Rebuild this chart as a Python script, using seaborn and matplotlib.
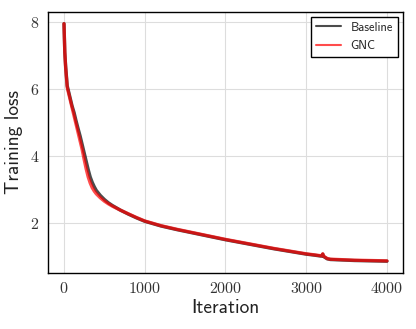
import numpy as np
import pandas as pd
import matplotlib
matplotlib.use("Agg")
import matplotlib.pyplot as plt
import seaborn as sns

# -----------------------------
# DATA
# -----------------------------
iteration = [0, 10, 20, 40, 60, 80, 100, 125, 150, 175, 200, 225, 250, 275,
             300, 325, 350, 375, 400, 450, 500, 550, 600, 700, 800, 900,
             1000, 1100, 1200, 1400, 1600, 1800, 2000, 2200, 2400, 2600, 2800,
             3000, 3100, 3190, 3205, 3215, 3260, 3300, 3400, 3600, 3800, 4000]

baseline_loss = [7.95, 7.10, 6.70, 6.10, 5.90, 5.70, 5.50, 5.30, 5.05, 4.82,
                 4.60, 4.35, 4.10, 3.85, 3.60, 3.38, 3.22, 3.09, 2.98, 2.83,
                 2.71, 2.61, 2.53, 2.39, 2.27, 2.16, 2.06, 1.99, 1.92, 1.81,
                 1.71, 1.61, 1.51, 1.42, 1.33, 1.24, 1.16, 1.08, 1.05, 1.02,
                 1.08, 1.01, 0.94, 0.92, 0.91, 0.89, 0.88, 0.87]

gnc_loss = [7.95, 7.10, 6.65, 6.05, 5.85, 5.65, 5.45, 5.20, 4.95, 4.70,
            4.45, 4.20, 3.90, 3.62, 3.38, 3.20, 3.06, 2.96, 2.88, 2.76,
            2.66, 2.58, 2.51, 2.39, 2.28, 2.17, 2.07, 2.00, 1.93, 1.82,
            1.72, 1.62, 1.52, 1.43, 1.34, 1.25, 1.17, 1.09, 1.06, 1.03,
            1.09, 1.02, 0.95, 0.93, 0.92, 0.90, 0.89, 0.88]

# -----------------------------
# STYLE
# -----------------------------
sns.set_style("whitegrid", {"axes.edgecolor": "black", "grid.color": "#dddddd"})
plt.rcParams["axes.formatter.use_mathtext"] = True

fig = plt.figure(figsize=(4.16, 3.29), dpi=100)
ax = fig.add_axes([0.115, 0.170, 0.854, 0.794])

sns.lineplot(x=iteration, y=baseline_loss, ax=ax, color="black", alpha=0.7,
             linewidth=2.4, label="Baseline")
sns.lineplot(x=iteration, y=gnc_loss, ax=ax, color="red", alpha=0.7,
             linewidth=2.4, label="GNC")

for s in ax.spines.values():
    s.set_linewidth(1.0)
    s.set_color("black")

ax.set_xticks([0, 1000, 2000, 3000, 4000])
ax.set_yticks([2, 4, 6, 8])
ax.tick_params(length=0, pad=6)
for lab in ax.get_xticklabels() + ax.get_yticklabels():
    lab.set_fontfamily("cmr10")
    lab.set_fontsize(11.5)
    lab.set_color("#333333")

ax.set_xlabel("Iteration", fontfamily="cmss10", fontsize=14, color="#222222", labelpad=2)
ax.set_ylabel("Training loss", fontfamily="cmss10", fontsize=14, color="#222222", labelpad=5)

leg = ax.legend(loc="upper right", fancybox=False, framealpha=1, edgecolor="black",
                prop={"family": "cmss10", "size": 9}, borderaxespad=0.4)
leg.get_frame().set_linewidth(1.0)
for ln in leg.get_lines():
    ln.set_linewidth(1.5)

fig.savefig("out.png", dpi=100)
